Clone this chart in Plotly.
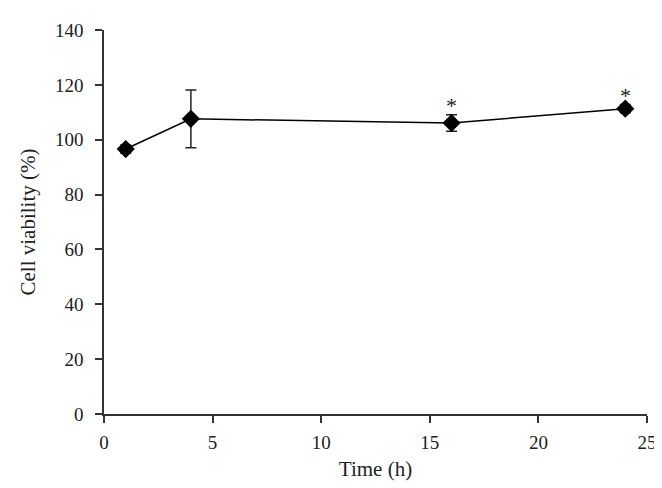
import plotly.graph_objects as go

time_h = [1, 4, 16, 24]
viability = [96.6, 107.6, 106.1, 111.3]
viability_sd = [1.5, 10.5, 3.0, 1.5]
significant = [False, False, True, True]

x_ticks = [0, 5, 10, 15, 20, 25]
y_ticks = [0, 20, 40, 60, 80, 100, 120, 140]

FONT = "Liberation Serif"

fig = go.Figure()
fig.add_trace(go.Scatter(
    x=time_h, y=viability,
    mode="lines+markers",
    line=dict(color="black", width=1.5),
    marker=dict(symbol="diamond", size=14, color="black"),
    error_y=dict(type="data", array=viability_sd, visible=True,
                 color="#222", thickness=1.5, width=5.5),
    showlegend=False,
))

for xv, yv, sd, sig in zip(time_h, viability, viability_sd, significant):
    if sig:
        fig.add_annotation(x=xv, y=yv + sd, text="*", showarrow=False,
                           yanchor="bottom", yshift=-5,
                           font=dict(family=FONT, size=22, color="#222"))

axis_common = dict(
    showline=True, linecolor="#333", linewidth=1.5,
    ticks="outside", ticklen=7, tickwidth=1.5, tickcolor="#333",
    showgrid=False, zeroline=False,
    tickfont=dict(family=FONT, size=19, color="#222"),
    title_font=dict(family=FONT, size=21, color="#222"),
)

fig.update_xaxes(range=[0, 25], tickvals=x_ticks, title_text="Time (h)",
                 ticklabelstandoff=3, title_standoff=10, **axis_common)
fig.update_yaxes(range=[0, 140], tickvals=y_ticks, title_text="Cell viability (%)",
                 ticklabelstandoff=8, title_standoff=14, **axis_common)

fig.update_layout(
    width=662, height=488,
    margin=dict(l=96, r=23, t=22, b=82),
    plot_bgcolor="white", paper_bgcolor="white",
)

fig.write_html("out.html")
